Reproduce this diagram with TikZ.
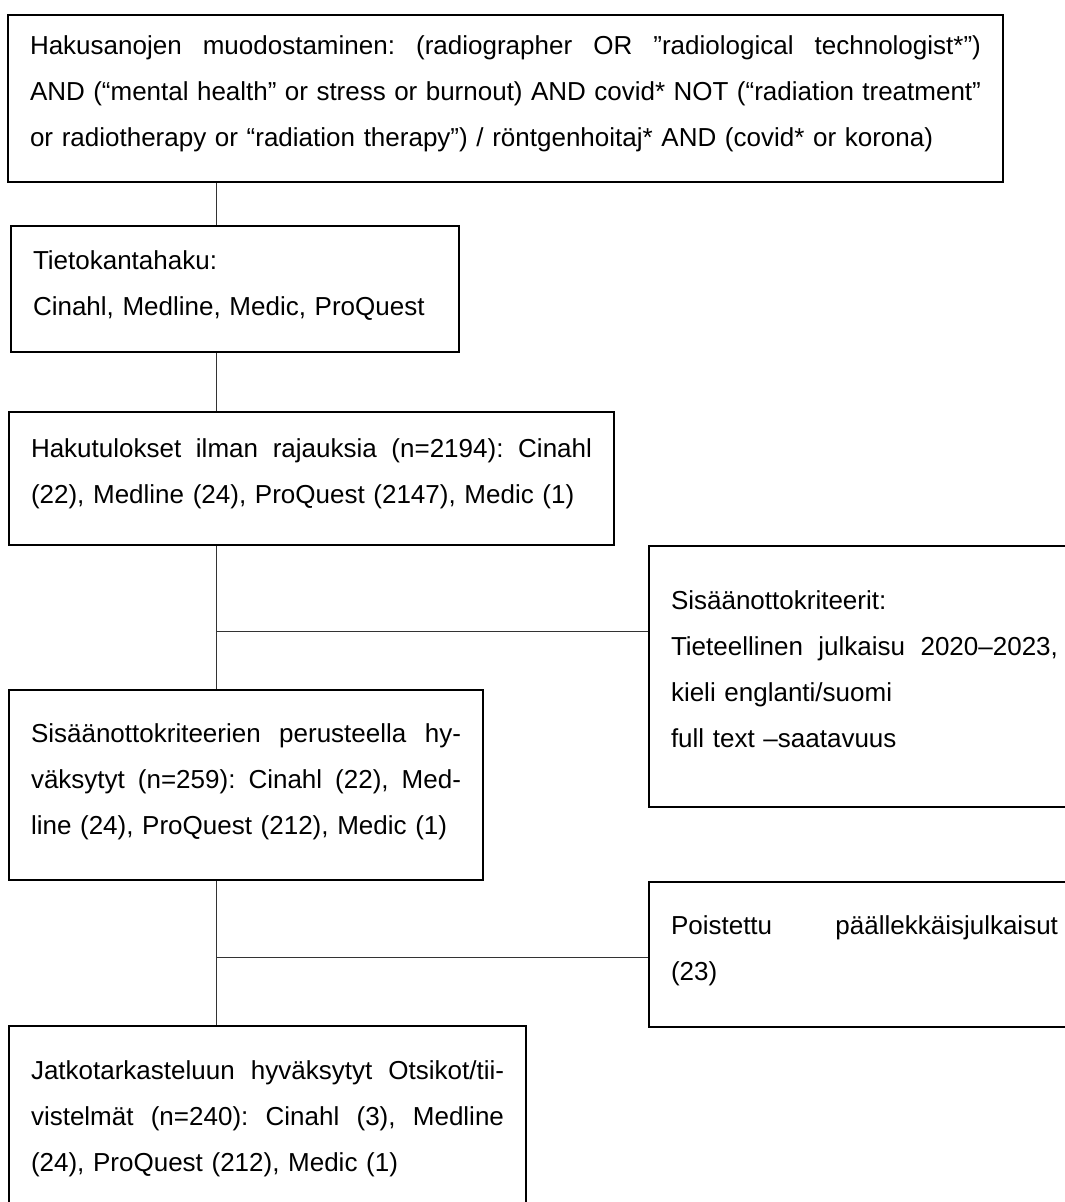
\documentclass[tikz,border=0pt]{standalone}
\usepackage{fontspec}
\setmainfont{Liberation Sans}

\newcommand{\tasarivi}[1]{\leavevmode\hbox to\hsize{\frenchspacing\spaceskip=.278em plus 1fil minus .05em\relax #1}}

\begin{document}
\begin{tikzpicture}[x=1pt, y=-1pt,
    laatikko/.style={draw, line width=2pt, anchor=base west, inner xsep=22pt, inner ysep=0pt,
      font=\fontsize{26}{46}\selectfont},
    yhteys/.style={draw=black!80, line width=1pt}]
  \useasboundingbox (0,0) rectangle (1065,1202);
  \clip (0,0) rectangle (1065,1202);
  \coordinate (spine) at (216,0);
  \coordinate (haara1) at (0,631);
  \coordinate (haara2) at (0,957);

  \node[laatikko, text width=951pt, text height=39.5pt, text depth=127.5pt] (hakusanat) at (7,54.5)
    {\tasarivi{Hakusanojen muodostaminen: (radiographer OR ”radiological technologist*”)}\\
     \tasarivi{AND (“mental health” or stress or burnout) AND covid* NOT (“radiation treatment”}\\
     or radiotherapy or “radiation therapy”) / röntgenhoitaj* AND (covid* or korona)};
  \node[laatikko, text width=404pt, text height=43.5pt, text depth=82.5pt] (tietokanta) at (10,269.5)
    {Tietokantahaku:\\
     Cinahl, Medline, Medic, ProQuest};
  \node[laatikko, text width=561pt, text height=45.5pt, text depth=87.5pt] (hakutulokset) at (8,457.5)
    {\tasarivi{Hakutulokset ilman rajauksia (n=2194): Cinahl}\\
     (22), Medline (24), ProQuest (2147), Medic (1)};
  \node[laatikko, text width=387pt, text height=63.5pt, text depth=197.5pt] (kriteerit) at (648,609.5)
    {Sisäänottokriteerit:\\
     \tasarivi{Tieteellinen julkaisu 2020–2023,}\\
     kieli englanti/suomi\\
     full text –saatavuus};
  \node[laatikko, text width=430pt, text height=52.5pt, text depth=137.5pt] (hyvaksytyt) at (8,742.5)
    {\tasarivi{Sisäänottokriteerien perusteella hy-}\\
     \tasarivi{väksytyt (n=259): Cinahl (22), Med-}\\
     line (24), ProQuest (212), Medic (1)};
  \node[laatikko, text width=387pt, text height=52.5pt, text depth=92.5pt] (poistettu) at (648,934.5)
    {\tasarivi{Poistettu päällekkäisjulkaisut}\\
     (23)};
  \node[laatikko, text width=473pt, text height=53.5pt, text depth=150.5pt] (jatko) at (8,1079.5)
    {\tasarivi{Jatkotarkasteluun hyväksytyt Otsikot/tii-}\\
     \tasarivi{vistelmät (n=240): Cinahl (3), Medline}\\
     (24), ProQuest (212), Medic (1)};

  \draw[yhteys] (hakusanat.south -| spine) -- (tietokanta.north -| spine);
  \draw[yhteys] (tietokanta.south -| spine) -- (hakutulokset.north -| spine);
  \draw[yhteys] (hakutulokset.south -| spine) -- (hyvaksytyt.north -| spine);
  \draw[yhteys] (spine |- haara1) -- (kriteerit.west |- haara1);
  \draw[yhteys] (hyvaksytyt.south -| spine) -- (jatko.north -| spine);
  \draw[yhteys] (spine |- haara2) -- (poistettu.west |- haara2);
\end{tikzpicture}
\end{document}
